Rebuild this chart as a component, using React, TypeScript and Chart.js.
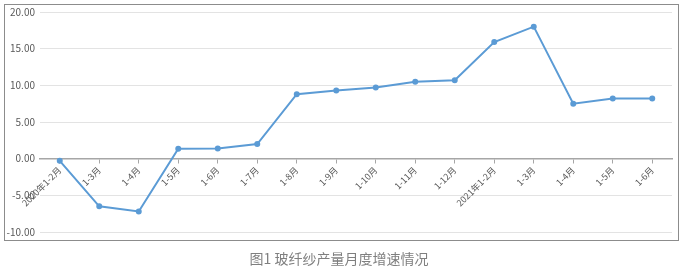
import React, { useEffect, useRef } from 'react';
import { Chart, registerables } from 'chart.js';

Chart.register(...registerables);

const categories = [
  '2020年1-2月', '1-3月', '1-4月', '1-5月', '1-6月', '1-7月', '1-8月', '1-9月',
  '1-10月', '1-11月', '1-12月', '2021年1-2月', '1-3月', '1-4月', '1-5月', '1-6月',
];
const growthValues = [-0.3, -6.5, -7.2, 1.35, 1.4, 2.0, 8.8, 9.3, 9.7, 10.5, 10.7, 15.9, 18.0, 7.5, 8.2, 8.2];
const yMin = -10;
const yMax = 20;
const yStep = 5;
const caption = '图1 玻纤纱产量月度增速情况';

const FONT = '"Microsoft YaHei", "Noto Sans CJK SC", "Noto Sans", sans-serif';

export default function App() {
  const ref = useRef<HTMLCanvasElement | null>(null);

  useEffect(() => {
    if (!ref.current) return;
    const chart = new Chart(ref.current, {
      type: 'line',
      data: {
        labels: categories,
        datasets: [
          {
            data: growthValues,
            borderColor: '#5b9bd5',
            backgroundColor: '#5b9bd5',
            borderWidth: 2,
            pointRadius: 2,
            pointHoverRadius: 2,
            pointBackgroundColor: '#5b9bd5',
            pointBorderColor: '#5b9bd5',
            tension: 0,
            fill: false,
          },
        ],
      },
      options: {
        responsive: false,
        animation: false,
        layout: { padding: { left: 0, top: 12, right: 15, bottom: 38 } },
        plugins: {
          legend: { display: false },
          tooltip: { enabled: false },
          title: { display: false },
        },
        scales: {
          x: {
            type: 'category',
            position: { y: 0 },
            offset: true,
            grid: {
              offset: false,
              drawOnChartArea: false,
              drawTicks: true,
              tickLength: 4,
              color: '#a6a6a6',
            },
            border: { display: true, color: '#a6a6a6', width: 1.5 },
            ticks: {
              minRotation: 45,
              maxRotation: 45,
              autoSkip: false,
              padding: 2,
              color: '#595959',
              font: { family: FONT, size: 9 },
            },
            afterFit: (scale: any) => {
              scale.height = 0;
            },
          },
          y: {
            min: yMin,
            max: yMax,
            ticks: {
              stepSize: yStep,
              padding: 5,
              color: '#595959',
              font: { family: FONT, size: 10 },
              callback: (v: any) => Number(v).toFixed(2),
            },
            grid: { color: '#e3e3e3', lineWidth: 1, drawTicks: false },
            border: { display: false },
            afterFit: (scale: any) => {
              scale.width = 40;
            },
          },
        },
      },
    });
    return () => chart.destroy();
  }, []);

  return (
    <div style={{ position: 'fixed', left: 0, top: 0, width: 687, height: 270, background: '#fff' }}>
      <div
        style={{
          position: 'absolute',
          left: 4,
          top: 4,
          width: 675,
          height: 237,
          boxSizing: 'border-box',
          border: '1px solid #8c8c8c',
        }}
      />
      <canvas
        ref={ref}
        width={687}
        height={270}
        style={{ position: 'absolute', left: 0, top: 0, width: 687, height: 270 }}
      />
      <div
        style={{
          position: 'absolute',
          left: 0,
          top: 248,
          width: 678,
          textAlign: 'center',
          fontFamily: FONT,
          fontSize: 14,
          lineHeight: '20px',
          color: '#7f7f7f',
        }}
      >
        {caption}
      </div>
    </div>
  );
}
